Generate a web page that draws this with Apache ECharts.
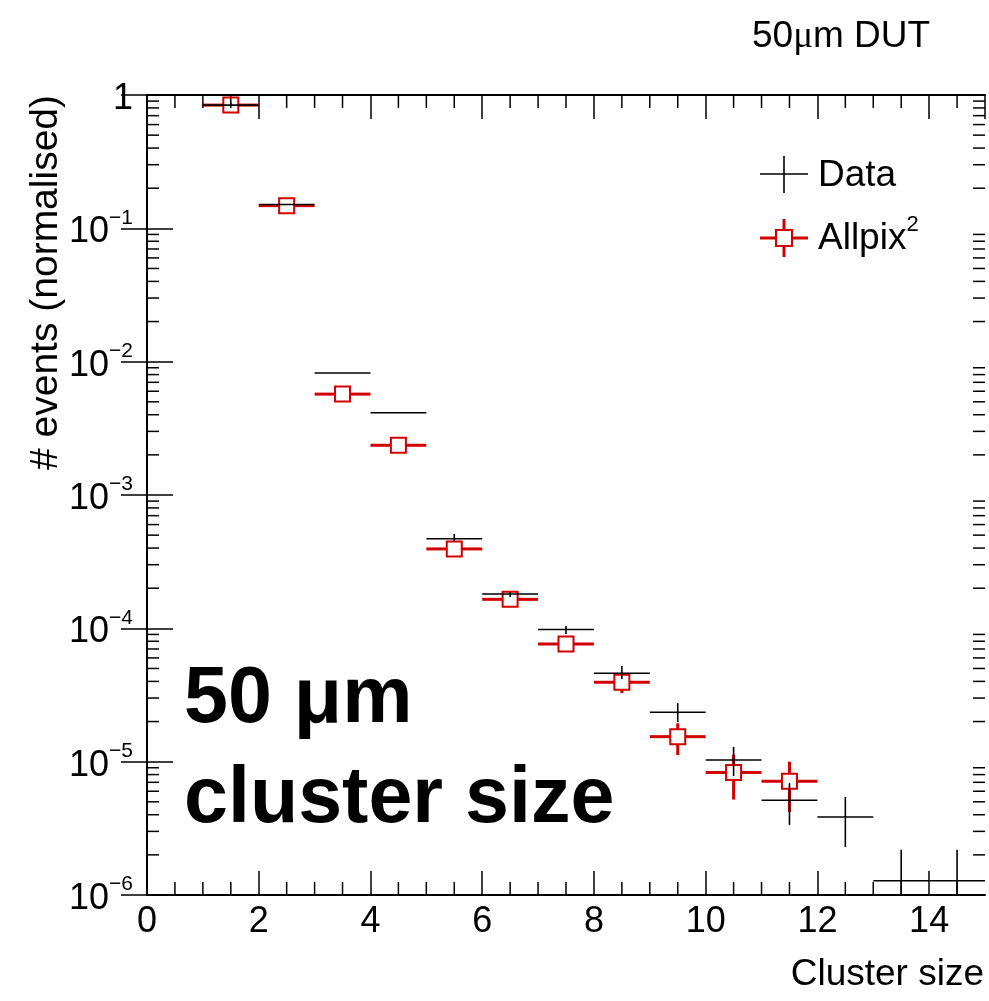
<!DOCTYPE html>
<html>
<head>
<meta charset="utf-8">
<script src="https://cdn.jsdelivr.net/npm/echarts@6.0.0/dist/echarts.min.js"></script>
<style>
html, body { margin: 0; padding: 0; background: #fff; }
#chart { width: 989px; height: 1001px; }
</style>
</head>
<body>
<div id="chart"></div>
<script>
// measured data (cluster size bins, normalised counts)
const dataBins = [1.5, 2.5, 3.5, 4.5, 5.5, 6.5, 7.5, 8.5, 9.5, 10.5, 11.5, 12.5, 13.5, 14.5];
const dataVal = [0.84, 0.151, 0.00822, 0.00414, 4.70e-4, 1.81e-4, 9.8e-5, 4.6e-5, 2.35e-5, 1.03e-5, 5.14e-6, 3.85e-6, 1.28e-6, 1.28e-6];
const dataLo = [0.84, 0.151, 0.00822, 0.00414, 4.52e-4, 1.72e-4, 9.07e-5, 4.17e-5, 1.98e-5, 7.8e-6, 3.35e-6, 2.29e-6, 1e-7, 1e-7];
const dataHi = [0.88, 0.151, 0.00822, 0.00414, 5.1e-4, 1.87e-4, 1.04e-4, 5.22e-5, 2.75e-5, 1.29e-5, 6.9e-6, 5.43e-6, 2.18e-6, 2.18e-6];

// Allpix2 simulation
const simBins = [1.5, 2.5, 3.5, 4.5, 5.5, 6.5, 7.5, 8.5, 9.5, 10.5, 11.5];
const simVal = [0.84, 0.148, 0.00571, 0.00236, 3.94e-4, 1.65e-4, 7.63e-5, 3.94e-5, 1.54e-5, 8.3e-6, 7.13e-6];
const simLo = [0.84, 0.148, 0.00571, 0.00236, 3.94e-4, 1.65e-4, 7.63e-5, 3.27e-5, 1.12e-5, 5.2e-6, 4.2e-6];
const simHi = [0.84, 0.148, 0.00571, 0.00236, 3.94e-4, 1.65e-4, 7.63e-5, 4.62e-5, 1.94e-5, 1.13e-5, 1.0e-5];

const FONT = '"Liberation Sans", Arial, Helvetica, sans-serif';
const RED = '#d20000';

// minor tick positions
const xMinor = [];
for (let v = 0.5; v < 15; v += 0.5) if (v % 2 !== 0) xMinor.push(v);
const yMinor = [];
for (let e = -6; e < 0; e++) for (let k = 2; k <= 9; k++) yMinor.push(k * Math.pow(10, e));

const chart = echarts.init(document.getElementById('chart'));

function renderData(params, api) {
  const x = api.value(0), y = api.value(1);
  const c = api.coord([x, y]);
  const l = api.coord([x - 0.5, y]);
  const r = api.coord([x + 0.5, y]);
  const pl = api.coord([x, api.value(2)]);
  const ph = api.coord([x, api.value(3)]);
  const st = { stroke: '#000', lineWidth: 1.6 };
  return {
    type: 'group',
    children: [
      { type: 'line', shape: { x1: l[0], y1: c[1], x2: r[0], y2: c[1] }, style: st },
      { type: 'line', shape: { x1: c[0], y1: pl[1], x2: c[0], y2: ph[1] }, style: st }
    ]
  };
}

function renderSim(params, api) {
  const x = api.value(0), y = api.value(1);
  const c = api.coord([x, y]);
  const l = api.coord([x - 0.5, y]);
  const r = api.coord([x + 0.5, y]);
  const pl = api.coord([x, api.value(2)]);
  const ph = api.coord([x, api.value(3)]);
  const h = 7.5;
  const st = { stroke: RED, lineWidth: 3 };
  const kids = [
    { type: 'line', shape: { x1: l[0], y1: c[1], x2: c[0] - h, y2: c[1] }, style: st },
    { type: 'line', shape: { x1: c[0] + h, y1: c[1], x2: r[0], y2: c[1] }, style: st }
  ];
  if (ph[1] < c[1] - h) kids.push({ type: 'line', shape: { x1: c[0], y1: ph[1], x2: c[0], y2: c[1] - h }, style: st });
  if (pl[1] > c[1] + h) kids.push({ type: 'line', shape: { x1: c[0], y1: c[1] + h, x2: c[0], y2: pl[1] }, style: st });
  kids.push({ type: 'rect', shape: { x: c[0] - h, y: c[1] - h, width: 2 * h, height: 2 * h },
    style: { stroke: RED, lineWidth: 2, fill: null } });
  return { type: 'group', children: kids };
}

const tickStyle = { stroke: '#000', lineWidth: 1.5 };

const option = {
  backgroundColor: '#fff',
  animation: false,
  grid: { left: 147, top: 95, right: 4, bottom: 106 },
  xAxis: [
    {
      type: 'value', min: 0, max: 15, interval: 2, position: 'bottom',
      axisLine: { lineStyle: { color: '#000', width: 2 } },
      axisTick: { inside: true, length: 24, lineStyle: { color: '#000', width: 1.5 } },
      axisLabel: { showMaxLabel: false, margin: 9, color: '#000', fontSize: 36, fontFamily: FONT },
      splitLine: { show: false }
    },
    {
      type: 'value', min: 0, max: 15, interval: 2, position: 'top',
      axisLine: { lineStyle: { color: '#000', width: 2 } },
      axisTick: { inside: true, length: 24, lineStyle: { color: '#000', width: 1.5 } },
      axisLabel: { show: false },
      splitLine: { show: false }
    }
  ],
  yAxis: [
    {
      type: 'log', logBase: 10, min: 1e-6, max: 1, position: 'left',
      axisLine: { show: true, lineStyle: { color: '#000', width: 2 } },
      axisTick: { show: true, inside: true, length: 26, lineStyle: { color: '#000', width: 1.5 } },
      axisLabel: {
        margin: 14,
        hideOverlap: true,
        formatter: v => {
          const e = Math.round(Math.log10(v));
          if (e === 0) return v === 1 ? '{b|1}' : '';
          return '{b|10}{s|\u2212' + (-e) + '}';
        },
        rich: {
          b: { fontSize: 36, lineHeight: 42, padding: [8, 0, 0, 0], fontFamily: FONT, color: '#000' },
          s: { fontSize: 21, lineHeight: 36, verticalAlign: 'top', fontFamily: FONT, color: '#000' }
        }
      },
      splitLine: { show: false }
    },
    {
      type: 'log', logBase: 10, min: 1e-6, max: 1, position: 'right',
      axisLine: { show: true, lineStyle: { color: '#000', width: 2 } },
      axisTick: { show: true, inside: true, length: 26, lineStyle: { color: '#000', width: 1.5 } },
      axisLabel: { show: false },
      splitLine: { show: false }
    }
  ],
  series: [
    {
      type: 'custom', silent: true, xAxisIndex: 0, yAxisIndex: 0,
      data: xMinor.map(v => [v, 1]),
      renderItem: (params, api) => {
        const cs = params.coordSys;
        const p = api.coord([api.value(0), 1]);
        return { type: 'group', children: [
          { type: 'line', shape: { x1: p[0], y1: cs.y + cs.height, x2: p[0], y2: cs.y + cs.height - 13 }, style: tickStyle },
          { type: 'line', shape: { x1: p[0], y1: cs.y, x2: p[0], y2: cs.y + 13 }, style: tickStyle }
        ] };
      }
    },
    {
      type: 'custom', silent: true, xAxisIndex: 0, yAxisIndex: 0,
      data: yMinor.map(v => [0, v]),
      renderItem: (params, api) => {
        const cs = params.coordSys;
        const p = api.coord([0, api.value(1)]);
        return { type: 'group', children: [
          { type: 'line', shape: { x1: cs.x, y1: p[1], x2: cs.x + 12, y2: p[1] }, style: tickStyle },
          { type: 'line', shape: { x1: cs.x + cs.width, y1: p[1], x2: cs.x + cs.width - 12, y2: p[1] }, style: tickStyle }
        ] };
      }
    },
    {
      name: 'Allpix2', type: 'custom', clip: true, xAxisIndex: 0, yAxisIndex: 0,
      data: simBins.map((b, i) => [b, simVal[i], simLo[i], simHi[i]]),
      renderItem: renderSim
    },
    {
      name: 'Data', type: 'custom', clip: true, xAxisIndex: 0, yAxisIndex: 0,
      data: dataBins.map((b, i) => [b, dataVal[i], dataLo[i], dataHi[i]]),
      renderItem: renderData
    }
  ],
  graphic: [
    { type: 'text', x: 752, y: 37, style: {
      text: '{a|50}{m|\u03bc}{a|m DUT}', verticalAlign: 'middle', textVerticalAlign: 'middle',
      rich: { a: { fontSize: 37, fontFamily: FONT, color: '#000' },
              m: { fontSize: 37, fontFamily: '"Liberation Serif", serif', color: '#000' } } } },
    { type: 'text', x: 46, y: 95, rotation: Math.PI / 2, style: {
      text: '# events (normalised)', font: '39px ' + FONT, fill: '#000',
      align: 'right', textAlign: 'right', verticalAlign: 'middle', textVerticalAlign: 'middle' } },
    { type: 'text', x: 984, y: 975, style: {
      text: 'Cluster size', font: '37px ' + FONT, fill: '#000',
      align: 'right', textAlign: 'right', verticalAlign: 'middle', textVerticalAlign: 'middle' } },
    { type: 'text', x: 184, y: 700, style: {
      text: '50 \u03bcm', font: 'bold 79px ' + FONT, fill: '#000',
      verticalAlign: 'middle', textVerticalAlign: 'middle' } },
    { type: 'text', x: 184, y: 800, style: {
      text: 'cluster size', font: 'bold 79px ' + FONT, fill: '#000',
      verticalAlign: 'middle', textVerticalAlign: 'middle' } },
    // legend
    { type: 'line', shape: { x1: 760, y1: 174, x2: 808, y2: 174 }, style: { stroke: '#000', lineWidth: 1.6 } },
    { type: 'line', shape: { x1: 784, y1: 156, x2: 784, y2: 193 }, style: { stroke: '#000', lineWidth: 1.6 } },
    { type: 'text', x: 818, y: 176, style: {
      text: 'Data', font: '37px ' + FONT, fill: '#000', verticalAlign: 'middle', textVerticalAlign: 'middle' } },
    { type: 'line', shape: { x1: 760, y1: 238, x2: 776, y2: 238 }, style: { stroke: RED, lineWidth: 3 } },
    { type: 'line', shape: { x1: 792, y1: 238, x2: 808, y2: 238 }, style: { stroke: RED, lineWidth: 3 } },
    { type: 'line', shape: { x1: 784, y1: 219, x2: 784, y2: 230 }, style: { stroke: RED, lineWidth: 3 } },
    { type: 'line', shape: { x1: 784, y1: 246, x2: 784, y2: 257 }, style: { stroke: RED, lineWidth: 3 } },
    { type: 'rect', shape: { x: 776, y: 230, width: 16, height: 16 }, style: { stroke: RED, lineWidth: 2, fill: null } },
    { type: 'text', x: 818, y: 239, style: {
      text: '{a|Allpix}{s|2}', verticalAlign: 'middle', textVerticalAlign: 'middle',
      rich: { a: { fontSize: 37, lineHeight: 50, fontFamily: FONT, color: '#000' },
              s: { fontSize: 22, lineHeight: 20, verticalAlign: 'top', fontFamily: FONT, color: '#000' } } } }
  ]
};

chart.setOption(option);
</script>
</body>
</html>
